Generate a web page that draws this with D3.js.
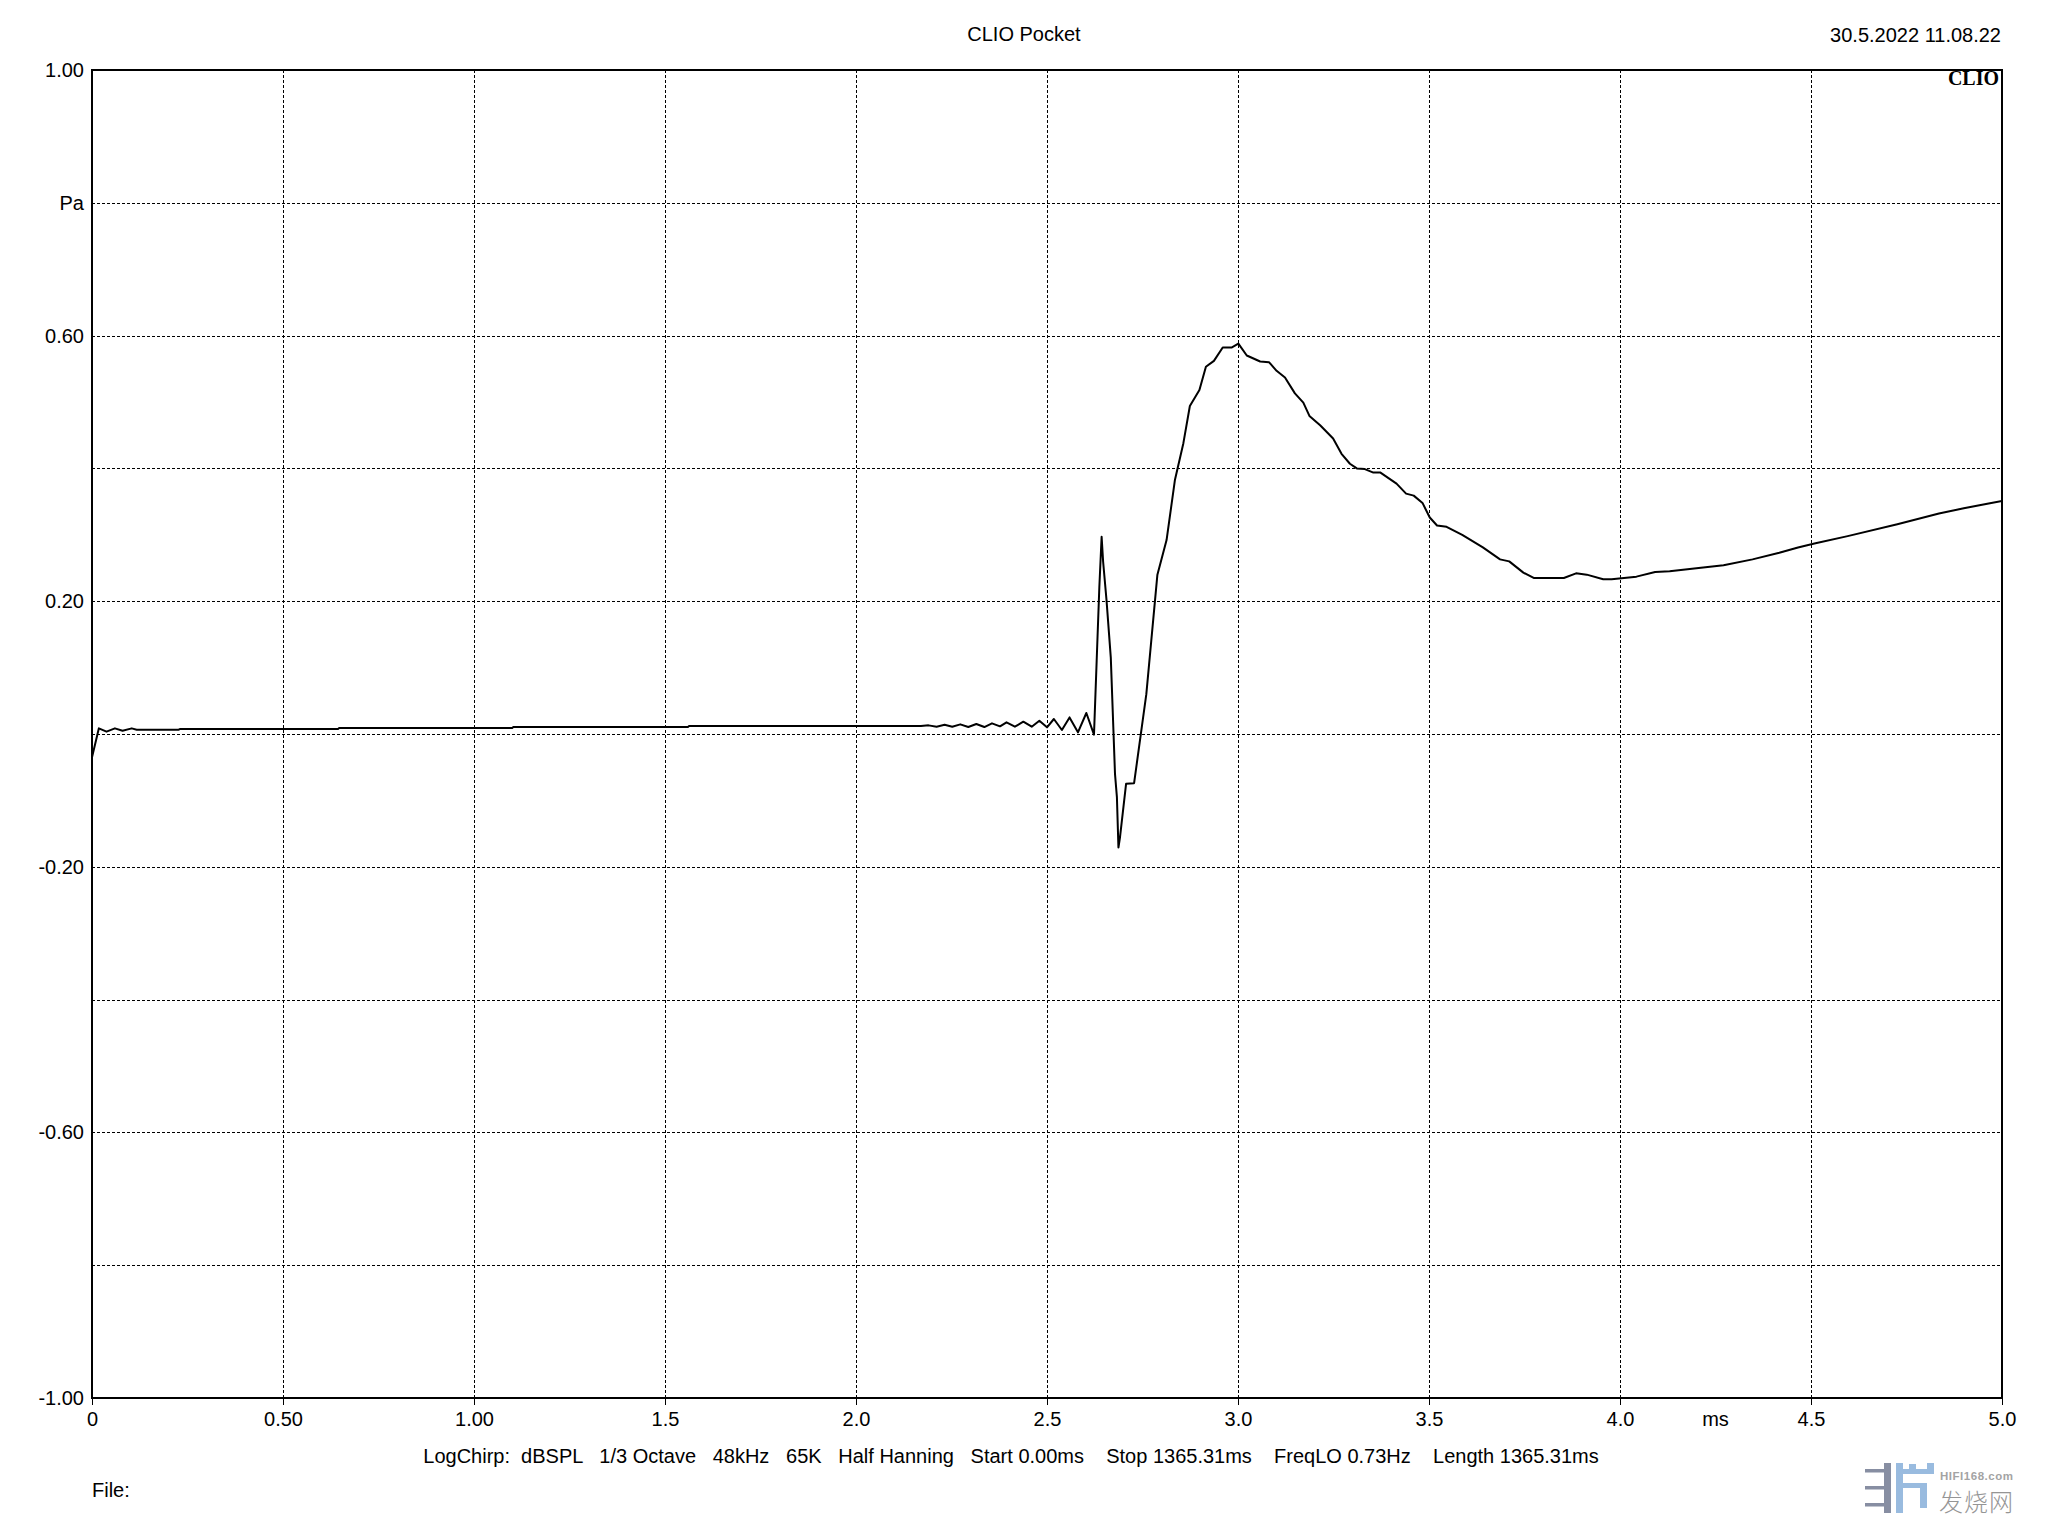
<!DOCTYPE html>
<html>
<head>
<meta charset="utf-8">
<script src="https://cdn.jsdelivr.net/npm/d3@7"></script>
<style>
  body { margin: 0; background: #fff; }
  text { font-family: "Liberation Sans", Arial, sans-serif; fill: #000; }
  .grid line { stroke: #000; stroke-width: 1; stroke-dasharray: 3,2; shape-rendering: crispEdges; }
  .frame { fill: none; stroke: #000; stroke-width: 2; shape-rendering: crispEdges; }
  .trace { fill: none; stroke: #000; stroke-width: 2; stroke-linejoin: round; }
</style>
</head>
<body>
<div id="chart_placeholder"></div>
<script>
// impulse response, time in ms, pressure in Pa
var times = [0, 0.018, 0.038, 0.060, 0.080, 0.104, 0.117, 0.227, 0.230, 0.644, 0.647,
  1.100, 1.103, 1.560, 1.563, 2.170, 2.190, 2.211, 2.232, 2.252, 2.273, 2.294, 2.315,
  2.336, 2.356, 2.377, 2.394, 2.416, 2.438, 2.460, 2.480, 2.500, 2.518, 2.539, 2.559,
  2.581, 2.603, 2.623, 2.630, 2.637, 2.643, 2.647, 2.656, 2.667, 2.678, 2.683, 2.687,
  2.691, 2.707, 2.728, 2.760, 2.789, 2.813, 2.835, 2.857, 2.874, 2.899, 2.916, 2.937,
  2.960, 2.983, 3.001, 3.023, 3.058, 3.081, 3.101, 3.123, 3.149, 3.171, 3.187, 3.215,
  3.249, 3.271, 3.293, 3.311, 3.332, 3.353, 3.372, 3.415, 3.440, 3.460, 3.483, 3.502,
  3.521, 3.546, 3.587, 3.641, 3.686, 3.710, 3.747, 3.774, 3.853, 3.885, 3.913, 3.956,
  3.978, 4.043, 4.092, 4.130, 4.206, 4.271, 4.347, 4.417, 4.466, 4.509, 4.596, 4.726,
  4.835, 4.900, 4.965, 5.000];

var values = [-0.035, 0.0085, 0.0035, 0.0085, 0.005, 0.0085, 0.0065, 0.0065, 0.0075, 0.0075, 0.009,
  0.009, 0.0105, 0.0105, 0.012, 0.012, 0.013, 0.011, 0.014, 0.011, 0.0145, 0.0105, 0.015,
  0.0105, 0.016, 0.0115, 0.0176, 0.011, 0.0186, 0.011, 0.020, 0.010, 0.0226, 0.006, 0.025,
  0.0025, 0.0316, -0.001, 0.110, 0.221, 0.297, 0.259, 0.200, 0.115, -0.060, -0.095, -0.171,
  -0.156, -0.075, -0.074, 0.060, 0.240, 0.292, 0.383, 0.438, 0.494, 0.518, 0.553, 0.562,
  0.582, 0.582, 0.588, 0.570, 0.561, 0.560, 0.547, 0.537, 0.513, 0.499, 0.479, 0.465,
  0.445, 0.422, 0.407, 0.400, 0.399, 0.394, 0.394, 0.377, 0.362, 0.359, 0.348, 0.326,
  0.314, 0.312, 0.300, 0.281, 0.263, 0.260, 0.243, 0.235, 0.235, 0.242, 0.240, 0.233,
  0.233, 0.237, 0.244, 0.245, 0.250, 0.254, 0.263, 0.273, 0.281, 0.287, 0.298, 0.316,
  0.332, 0.340, 0.347, 0.351];

var xTicks = [0, 0.5, 1.0, 1.5, 2.0, 2.5, 3.0, 3.5, 4.0, 4.5, 5.0];
var xTickLabels = ["0", "0.50", "1.00", "1.5", "2.0", "2.5", "3.0", "3.5", "4.0", "4.5", "5.0"];
var yGrid = [1.0, 0.8, 0.6, 0.4, 0.2, 0, -0.2, -0.4, -0.6, -0.8, -1.0];
var yTicks = [1.0, 0.8, 0.6, 0.2, -0.2, -0.6, -1.0];
var yTickLabels = ["1.00", "Pa", "0.60", "0.20", "-0.20", "-0.60", "-1.00"];

var title = "CLIO Pocket";
var stamp = "30.5.2022 11.08.22";
var infoLine = "LogChirp:  dBSPL   1/3 Octave   48kHz   65K   Half Hanning   Start 0.00ms    Stop 1365.31ms    FreqLO 0.73Hz    Length 1365.31ms";

var data = times.map(function(t, i) { return {t: t, v: values[i]}; });

var margin = {top: 70, right: 46, bottom: 138, left: 92},
    width = 2048 - (margin.left + margin.right),
    height = 1536 - (margin.top + margin.bottom);

var x = d3.scaleLinear().domain([0, 5]).range([0, width]);
var y = d3.scaleLinear().domain([-1, 1]).range([height, 0]);

var line = d3.line()
  .x(function(d) { return x(d.t); })
  .y(function(d) { return y(d.v); });

var root = d3.select("#chart_placeholder")
  .append("svg")
  .attr("width", 2048)
  .attr("height", 1536);

root.append("rect").attr("width", 2048).attr("height", 1536).attr("fill", "#fff");

var svg = root.append("g")
  .attr("transform", "translate(" + margin.left + "," + margin.top + ")");

// dashed grid
var grid = svg.append("g").attr("class", "grid");
grid.selectAll(".vg")
  .data(xTicks.slice(1, -1))
  .enter().append("line")
  .attr("x1", function(d) { return Math.round(x(d)) + 0.5; })
  .attr("x2", function(d) { return Math.round(x(d)) + 0.5; })
  .attr("y1", 0).attr("y2", height);
grid.selectAll(".hg")
  .data(yGrid.slice(1, -1))
  .enter().append("line")
  .attr("y1", function(d) { return Math.round(y(d)) + 0.5; })
  .attr("y2", function(d) { return Math.round(y(d)) + 0.5; })
  .attr("x1", 0).attr("x2", width);

svg.append("clipPath").attr("id", "clip")
  .append("rect").attr("width", width).attr("height", height);

svg.append("path")
  .datum(data)
  .attr("class", "trace")
  .attr("clip-path", "url(#clip)")
  .attr("d", line);

svg.append("rect")
  .attr("class", "frame")
  .attr("width", width)
  .attr("height", height);

// x axis
var xAxis = svg.append("g")
  .attr("transform", "translate(0," + height + ")")
  .call(d3.axisBottom(x)
    .tickValues(xTicks)
    .tickSize(7)
    .tickFormat(function(d, i) { return xTickLabels[i]; }));
xAxis.select(".domain").remove();
xAxis.selectAll("line").attr("stroke", "#000").attr("stroke-width", 1);
xAxis.selectAll("text")
  .attr("y", 14)
  .attr("dy", "0.71em")
  .style("font-size", "20px")
  .style("font-family", "Liberation Sans, Arial, sans-serif");

svg.append("text")
  .attr("x", x(4.25))
  .attr("y", height + 14)
  .attr("dy", "0.71em")
  .attr("text-anchor", "middle")
  .style("font-size", "20px")
  .text("ms");

// y axis
var yAxis = svg.append("g")
  .call(d3.axisLeft(y)
    .tickValues(yTicks)
    .tickSize(0)
    .tickPadding(8)
    .tickFormat(function(d, i) { return yTickLabels[i]; }));
yAxis.select(".domain").remove();
yAxis.selectAll("text")
  .style("font-size", "20px")
  .style("font-family", "Liberation Sans, Arial, sans-serif");

// header texts
root.append("text")
  .attr("x", 1024).attr("y", 41)
  .attr("text-anchor", "middle")
  .style("font-size", "20px")
  .text(title);

root.append("text")
  .attr("x", 2001).attr("y", 42)
  .attr("text-anchor", "end")
  .style("font-size", "20px")
  .text(stamp);

root.append("text")
  .attr("x", 1999).attr("y", 85)
  .attr("text-anchor", "end")
  .style("font-family", "Liberation Serif, serif")
  .style("font-weight", "bold")
  .style("font-size", "20px")
  .text("CLIO");

root.append("text")
  .attr("x", 1011).attr("y", 1463)
  .attr("text-anchor", "middle")
  .attr("xml:space", "preserve")
  .style("white-space", "pre")
  .style("font-size", "20px")
  .text(infoLine);

root.append("text")
  .attr("x", 92).attr("y", 1497)
  .style("font-size", "20px")
  .text("File:");

// watermark
var wm = root.append("g").attr("opacity", 0.9);
var dark = "#7b8298", blue = "#8fb4dc";
wm.append("rect").attr("x", 1884).attr("y", 1463).attr("width", 7).attr("height", 50).attr("fill", dark);
[1469, 1486, 1503].forEach(function(yy) {
  wm.append("rect").attr("x", 1865).attr("y", yy).attr("width", 19).attr("height", 3.5).attr("fill", dark);
});
wm.append("rect").attr("x", 1896).attr("y", 1463).attr("width", 7).attr("height", 50).attr("fill", blue);
wm.append("rect").attr("x", 1903).attr("y", 1469).attr("width", 31).attr("height", 5).attr("fill", blue);
wm.append("rect").attr("x", 1909).attr("y", 1464).attr("width", 7).attr("height", 5).attr("fill", blue);
wm.append("rect").attr("x", 1927).attr("y", 1463).attr("width", 7).attr("height", 11).attr("fill", blue);
wm.append("rect").attr("x", 1903).attr("y", 1483).attr("width", 24).attr("height", 5).attr("fill", blue);
wm.append("rect").attr("x", 1920).attr("y", 1483).attr("width", 7).attr("height", 25).attr("fill", blue);

wm.append("text")
  .attr("x", 1940).attr("y", 1480)
  .attr("textLength", 73)
  .style("font-size", "11.5px")
  .style("font-weight", "bold")
  .style("fill", "#9a9a9a")
  .text("HIFI168.com");

wm.append("text")
  .attr("x", 1939).attr("y", 1511)
  .attr("textLength", 74)
  .style("font-family", "Noto Sans CJK SC, sans-serif")
  .style("font-weight", "300")
  .style("font-size", "24px")
  .style("fill", "#8a8a8a")
  .text("发烧网");
</script>
</body>
</html>
